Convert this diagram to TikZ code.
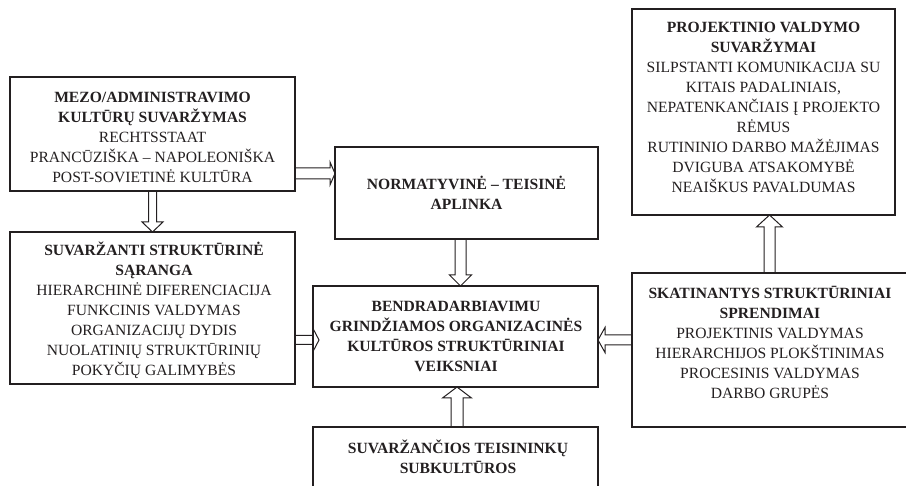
\documentclass[tikz,border=0pt]{standalone}
\usepackage{fontspec}
\setmainfont{Liberation Serif}
\usetikzlibrary{calc}
\definecolor{ink}{HTML}{231F20}

% Outlined block arrows between two points on a common vertical / horizontal line.
% #1 start, #2 tip, #3 half shaft width, #4 half head width, #5 head length
\newcommand\vblock[5]{%
  \draw[arrowline] let \p1=(#1), \p2=(#2), \n1={ifthenelse(\y2>\y1,1,-1)} in
    ({\x1-#3},\y1) -- ({\x1-#3},{\y2-\n1*#5}) -- ({\x1-#4},{\y2-\n1*#5}) -- (\x1,\y2)
    -- ({\x1+#4},{\y2-\n1*#5}) -- ({\x1+#3},{\y2-\n1*#5}) -- ({\x1+#3},\y1);}
\newcommand\hblock[5]{%
  \draw[arrowline] let \p1=(#1), \p2=(#2), \n1={ifthenelse(\x2>\x1,1,-1)} in
    (\x1,{\y1+#3}) -- ({\x2-\n1*#5},{\y1+#3}) -- ({\x2-\n1*#5},{\y1+#4}) -- (\x2,\y1)
    -- ({\x2-\n1*#5},{\y1-#4}) -- ({\x2-\n1*#5},{\y1-#3}) -- (\x1,{\y1-#3});}

\begin{document}
\begin{tikzpicture}[x=1pt,y=-1pt,
  box/.style={draw=ink, line width=1.2pt, rectangle, inner sep=0pt, outer sep=0pt},
  txt/.style={align=center, font=\fontsize{15.6}{20}\selectfont, text=ink, inner sep=0pt},
  arrowline/.style={draw=ink, line width=1pt, line join=miter},
]
\useasboundingbox (0,0) rectangle (906,486);
\clip (0,0) rectangle (906,486);

% boxes
\node[box, minimum width=285pt, minimum height=114pt] (mezo)    at (152.5,134)   {};
\node[box, minimum width=285pt, minimum height=152pt] (saranga) at (152.5,308)   {};
\node[box, minimum width=263pt, minimum height=92pt]  (norm)    at (466.5,193)   {};
\node[box, minimum width=285pt, minimum height=101pt] (bendr)   at (455.5,336.5) {};
\node[box, minimum width=285pt, minimum height=103pt] (subkult) at (455.5,478.5) {};
\node[box, minimum width=263pt, minimum height=206pt] (proj)    at (763.5,112)   {};
\node[box, minimum width=276pt, minimum height=154pt] (skat)    at (770,350)     {};

% texts
\node[txt] (mezo-t) at (152.5,137) {\textbf{MEZO/ADMINISTRAVIMO}\\\textbf{KULTŪRŲ SUVARŽYMAS}\\RECHTSSTAAT\\PRANCŪZIŠKA – NAPOLEONIŠKA\\POST-SOVIETINĖ KULTŪRA};
\node[txt] (saranga-t) at (154,310) {\textbf{SUVARŽANTI STRUKTŪRINĖ}\\\textbf{SĄRANGA}\\HIERARCHINĖ DIFERENCIACIJA\\FUNKCINIS VALDYMAS\\ORGANIZACIJŲ DYDIS\\NUOLATINIŲ STRUKTŪRINIŲ\\POKYČIŲ GALIMYBĖS};
\node[txt] (norm-t) at (466.5,192.5) {\textbf{NORMATYVINĖ – TEISINĖ}\\\textbf{APLINKA}};
\node[txt] (bendr-t) at (456,336) {\textbf{BENDRADARBIAVIMU}\\\textbf{GRINDŽIAMOS ORGANIZACINĖS}\\\textbf{KULTŪROS STRUKTŪRINIAI}\\\textbf{VEIKSNIAI}};
\node[txt] (subkult-t) at (458,457) {\textbf{SUVARŽANČIOS TEISININKŲ}\\\textbf{SUBKULTŪROS}};
\node[txt] (proj-t) at (763.5,107) {\textbf{PROJEKTINIO VALDYMO}\\\textbf{SUVARŽYMAI}\\SILPSTANTI KOMUNIKACIJA SU\\KITAIS PADALINIAIS,\\NEPATENKANČIAIS Į PROJEKTO\\RĖMUS\\RUTININIO DARBO MAŽĖJIMAS\\DVIGUBA ATSAKOMYBĖ\\NEAIŠKUS PAVALDUMAS};
\node[txt] (skat-t) at (770,342.5) {\textbf{SKATINANTYS STRUKTŪRINIAI}\\\textbf{SPRENDIMAI}\\PROJEKTINIS VALDYMAS\\HIERARCHIJOS PLOKŠTINIMAS\\PROCESINIS VALDYMAS\\DARBO GRUPĖS};

% connectors
\coordinate (a1) at (mezo.east |- 0,173.5);
\hblock{a1}{a1 -| norm.west}{5.5pt}{11.5pt}{5pt}
\vblock{mezo.south}{saranga.north}{4pt}{10.5pt}{10pt}
\coordinate (a3) at (saranga.east |- 0,340);
\hblock{a3}{$(a3 -| bendr.west)+(6,0)$}{4.5pt}{11.5pt}{6pt}
\coordinate (a4) at (norm.south -| 460.5,0);
\vblock{a4}{a4 |- bendr.north}{5.5pt}{11pt}{11pt}
\coordinate (a5) at (subkult.north -| 457,0);
\vblock{a5}{a5 |- bendr.south}{6pt}{14.5pt}{11pt}
\coordinate (a6) at (skat.west |- 0,340);
\hblock{a6}{a6 -| bendr.east}{5pt}{12.5pt}{7pt}
\coordinate (a7) at (skat.north -| 769.5,0);
\vblock{a7}{a7 |- proj.south}{5.5pt}{13pt}{12pt}
\end{tikzpicture}
\end{document}
